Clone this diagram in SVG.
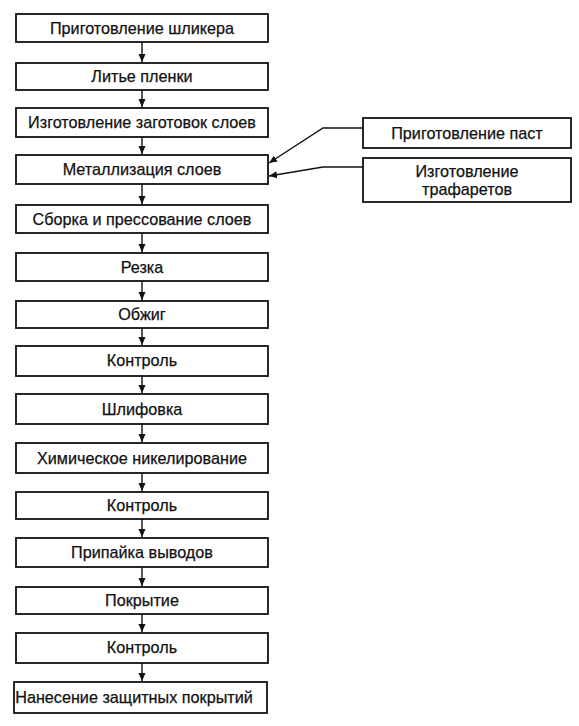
<svg xmlns="http://www.w3.org/2000/svg" width="579" height="726" viewBox="0 0 579 726">
<style>
.box{fill:#fff;stroke:#111;stroke-width:1.8}
.t{font-family:"Liberation Sans",Arial,sans-serif;font-size:16.2px;fill:#111;stroke:#111;stroke-width:0.25;text-anchor:middle}
.c{fill:none;stroke:#111;stroke-width:1.4}
</style>
<defs>
<marker id="ah" markerWidth="9" markerHeight="9" refX="8" refY="4.5" orient="auto" markerUnits="userSpaceOnUse">
<path d="M0,1 L8,4.5 L0,8 Z" fill="#111"/>
</marker>
</defs>
<rect width="579" height="726" fill="#fff"/>
<g id="connectors">
<line class="c" x1="142" y1="42" x2="142" y2="62" marker-end="url(#ah)"/>
<line class="c" x1="142" y1="90" x2="142" y2="107" marker-end="url(#ah)"/>
<line class="c" x1="142" y1="137" x2="142" y2="154" marker-end="url(#ah)"/>
<line class="c" x1="142" y1="184" x2="142" y2="204" marker-end="url(#ah)"/>
<line class="c" x1="142" y1="233" x2="142" y2="252" marker-end="url(#ah)"/>
<line class="c" x1="142" y1="281" x2="142" y2="300" marker-end="url(#ah)"/>
<line class="c" x1="142" y1="328" x2="142" y2="345" marker-end="url(#ah)"/>
<line class="c" x1="142" y1="376" x2="142" y2="393" marker-end="url(#ah)"/>
<line class="c" x1="142" y1="424" x2="142" y2="442" marker-end="url(#ah)"/>
<line class="c" x1="142" y1="473" x2="142" y2="491" marker-end="url(#ah)"/>
<line class="c" x1="142" y1="519" x2="142" y2="537" marker-end="url(#ah)"/>
<line class="c" x1="142" y1="567" x2="142" y2="586" marker-end="url(#ah)"/>
<line class="c" x1="142" y1="614" x2="142" y2="632" marker-end="url(#ah)"/>
<line class="c" x1="142" y1="663" x2="142" y2="681" marker-end="url(#ah)"/>
<polyline class="c" points="363,128 323,128 269,163" marker-end="url(#ah)"/>
<polyline class="c" points="363,167 323,167 269,176" marker-end="url(#ah)"/>
</g>
<g id="n1"><rect class="box" x="16" y="14" width="252" height="28"/><text class="t" x="142" y="34">Приготовление шликера</text></g>
<g id="n2"><rect class="box" x="16" y="63" width="252" height="27"/><text class="t" x="142" y="82">Литье пленки</text></g>
<g id="n3"><rect class="box" x="16" y="108" width="252" height="29"/><text class="t" x="142" y="128">Изготовление заготовок слоев</text></g>
<g id="n4"><rect class="box" x="16" y="155" width="252" height="29"/><text class="t" x="142" y="175">Металлизация слоев</text></g>
<g id="n5"><rect class="box" x="16" y="205" width="252" height="28"/><text class="t" x="142" y="225">Сборка и прессование слоев</text></g>
<g id="n6"><rect class="box" x="16" y="253" width="252" height="28"/><text class="t" x="142" y="273">Резка</text></g>
<g id="n7"><rect class="box" x="16" y="301" width="252" height="27"/><text class="t" x="142" y="320">Обжиг</text></g>
<g id="n8"><rect class="box" x="16" y="346" width="252" height="30"/><text class="t" x="142" y="366">Контроль</text></g>
<g id="n9"><rect class="box" x="16" y="394" width="252" height="30"/><text class="t" x="142" y="415">Шлифовка</text></g>
<g id="n10"><rect class="box" x="16" y="443" width="252" height="30"/><text class="t" x="142" y="464">Химическое никелирование</text></g>
<g id="n11"><rect class="box" x="16" y="492" width="252" height="27"/><text class="t" x="142" y="511">Контроль</text></g>
<g id="n12"><rect class="box" x="16" y="538" width="252" height="29"/><text class="t" x="142" y="558">Припайка выводов</text></g>
<g id="n13"><rect class="box" x="16" y="587" width="252" height="27"/><text class="t" x="142" y="606">Покрытие</text></g>
<g id="n14"><rect class="box" x="16" y="633" width="252" height="30"/><text class="t" x="142" y="653">Контроль</text></g>
<g id="n15"><rect class="box" x="14" y="682" width="253" height="31"/><text class="t" x="134" y="703">Нанесение защитных покрытий</text></g>
<g id="n16"><rect class="box" x="363" y="118" width="208" height="30"/><text class="t" x="467" y="139">Приготовление паст</text></g>
<g id="n17"><rect class="box" x="363" y="158" width="208" height="44"/><text class="t" x="467" y="177">Изготовление</text><text class="t" x="467" y="195">трафаретов</text></g>
</svg>
